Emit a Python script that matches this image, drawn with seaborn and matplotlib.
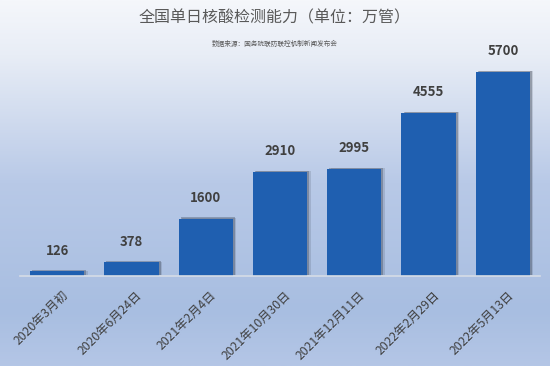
import numpy as np
import pandas as pd
import matplotlib
matplotlib.use("Agg")
import matplotlib.pyplot as plt
import matplotlib.patheffects as pe
import matplotlib.transforms as mtransforms
from matplotlib.colors import LinearSegmentedColormap
import seaborn as sns

# ===== Data =====
dates = ["2020年3月初", "2020年6月24日", "2021年2月4日", "2021年10月30日",
         "2021年12月11日", "2022年2月29日", "2022年5月13日"]
capacity = [126, 378, 1600, 2910, 2995, 4555, 5700]

title = "全国单日核酸检测能力（单位：万管）"
source = "数据来源：国务院联防联控机制新闻发布会"

df = pd.DataFrame({"date": dates, "capacity": capacity})

sns.set_theme(style="white")
plt.rcParams["font.family"] = ["Noto Sans CJK SC", "DejaVu Sans"]

fig = plt.figure(figsize=(5.5, 3.66), dpi=100)

# ===== Background gradient =====
bg = fig.add_axes([0, 0, 1, 1], zorder=0)
cmap = LinearSegmentedColormap.from_list(
    "bg", [(0.0, "#f5f7fb"), (0.15, "#e8edf6"), (0.5, "#b8c9e7"),
           (0.85, "#a8bee1"), (1.0, "#b4c6e6")])
grad = np.linspace(0, 1, 256).reshape(-1, 1)
bg.imshow(grad, aspect="auto", cmap=cmap, extent=[0, 1, 0, 1], origin="upper")
bg.set_axis_off()

# ===== Bars =====
ax = fig.add_axes([20 / 550, 90 / 366, 520 / 550, 0.635], zorder=1)
ax.patch.set_alpha(0)
sns.barplot(data=df, x="date", y="capacity", color="#1f5fb0", width=0.73,
            saturation=1, linewidth=0, ax=ax)

# soft shadow, a few offset layers
for bar in ax.patches:
    bar.set_edgecolor("none")
    bar.set_path_effects([
        pe.SimplePatchShadow(offset=(2.5, 0.5), shadow_rgbFace="#2a3240", alpha=0.15),
        pe.SimplePatchShadow(offset=(1.5, 1), shadow_rgbFace="#2a3240", alpha=0.3),
        pe.Normal()])

for bar, v in zip(ax.patches, capacity):
    ax.annotate(str(v), (bar.get_x() + bar.get_width() / 2, bar.get_height()),
                xytext=(0, 10), textcoords="offset points", ha="center", va="bottom",
                fontsize=9.5, fontweight="bold", color="#404040")

ax.set_xlim(-0.5, 6.5)
ax.set_ylim(0, 6500)
ax.set_xlabel("")
ax.set_ylabel("")
ax.set_yticks([])
for s in ["top", "right", "left"]:
    ax.spines[s].set_visible(False)
ax.spines["bottom"].set_color("#d6dce6")
ax.spines["bottom"].set_linewidth(1.2)
ax.tick_params(axis="x", length=0, pad=9)
shift = mtransforms.ScaledTranslation(3 / 72, 0, fig.dpi_scale_trans)
for lbl in ax.get_xticklabels():
    lbl.set_rotation(45)
    lbl.set_ha("right")
    lbl.set_rotation_mode("anchor")
    lbl.set_fontsize(8.8)
    lbl.set_color("#404040")
    lbl.set_transform(lbl.get_transform() + shift)

# ===== Titles =====
fig.text(0.5, 1 - 18 / 366, title, ha="center", va="center", fontsize=11.5, color="#595959")
fig.text(0.5, 1 - 44 / 366, source, ha="center", va="center", fontsize=4.8, color="#595959")

fig.savefig("out.png", dpi=100)
